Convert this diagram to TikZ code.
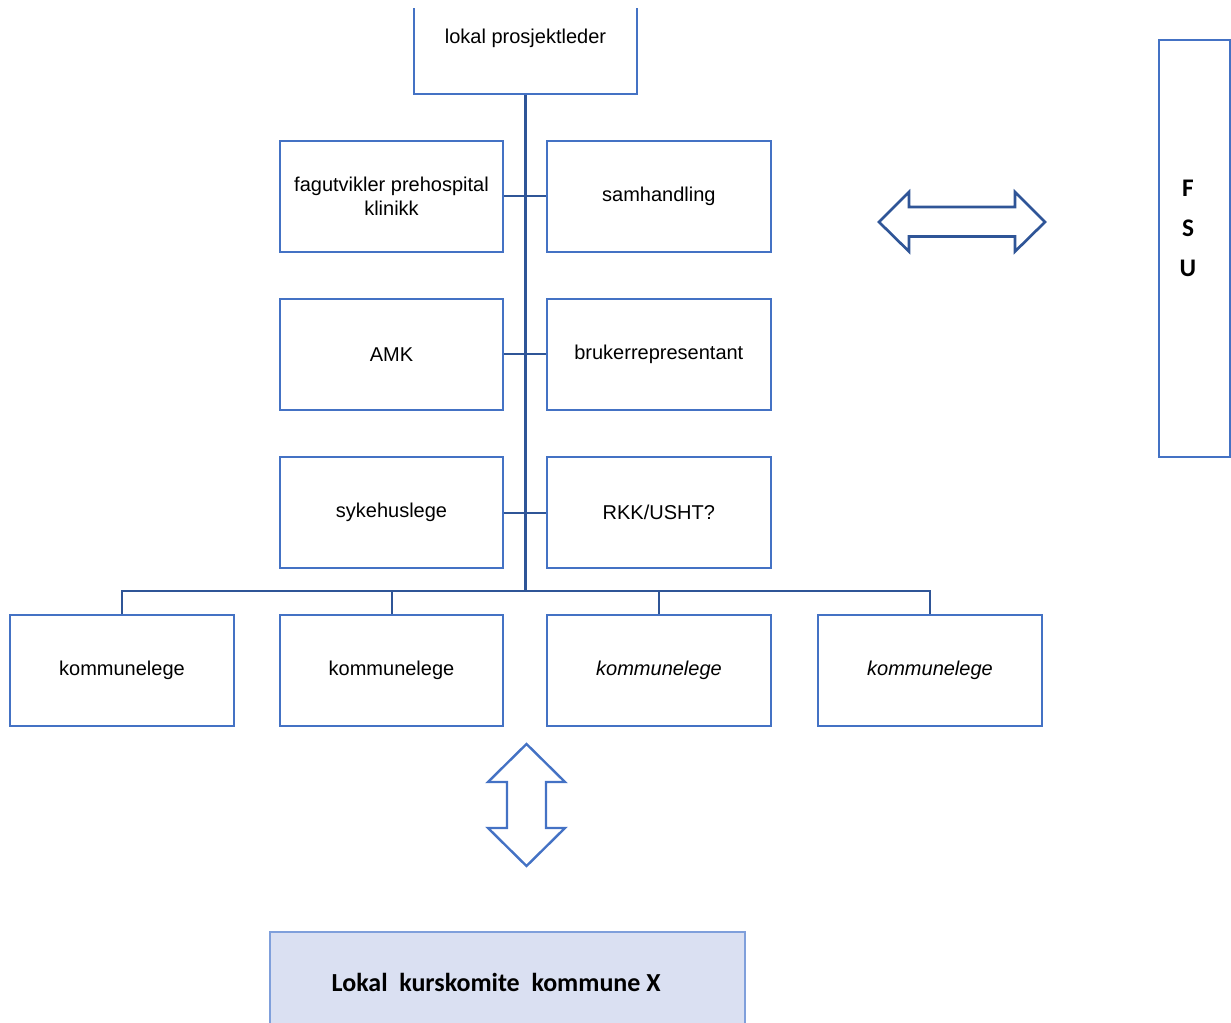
\documentclass[tikz,border=0pt]{standalone}
\usepackage{fontspec}
\setmainfont{Liberation Sans}
\newfontfamily\calibri{Carlito}
\usetikzlibrary{positioning}

\definecolor{boxblue}{RGB}{68,114,196}
\definecolor{lineblue}{RGB}{47,85,151}
\definecolor{komfill}{RGB}{218,224,242}
\definecolor{komline}{RGB}{127,159,219}

\tikzset{
  box/.style={draw=boxblue, line width=1.5pt, minimum width=167.5pt, minimum height=83.5pt,
    inner sep=0pt, align=center, font=\fontsize{15}{18}\selectfont},
  conn/.style={draw=lineblue, line width=1.5pt},
  trunk/.style={draw=lineblue, line width=2.4pt},
}

\begin{document}
\begin{tikzpicture}[x=0.75pt, y=-0.75pt]
    \useasboundingbox (0,0) rectangle (1231,1023);
    \clip (0,9) rectangle (1231,1023);

    % leder
    \node[box] at (525.5,38.5)(lead){lokal prosjektleder};

    % gruppe
    \node[box] at (391.5,196.5)(fag){fagutvikler prehospital\\klinikk};
    \node[box, right=31.5pt of fag](samh){samhandling};
    \node[box] at (391.5,354.5)(amk){AMK};
    \node[box, right=31.5pt of amk](bruker){brukerrepresentant};
    \node[box] at (391.5,512.5)(syk){sykehuslege};
    \node[box, right=31.5pt of syk](rkk){RKK/USHT?};

    % kommuner
    \node[box] at (122,670.5)(k1){kommunelege};
    \node[box] at (391.5,670.5)(k2){kommunelege};
    \node[box] at (659,670.5)(k3){\itshape kommunelege};
    \node[box] at (930,670.5)(k4){\itshape kommunelege};
    \coordinate (bus) at (525.5,591);

    \node[box, minimum width=53.25pt, minimum height=312.75pt] at (1194.5,248.5)(fsu){};
    \node[font=\calibri\bfseries\fontsize{19}{30}\selectfont, align=center] at (1188,228)(fsutext){F\\S\\U};

    \node[box, draw=komline, fill=komfill, line width=1pt, minimum width=356.25pt, minimum height=75pt,
      font=\calibri\bfseries\fontsize{19.5}{22}\selectfont] at (507.5,982)(komite){Lokal\hspace{0.45em}kurskomite\hspace{0.45em}kommune X\hspace{17pt}};

    \path[trunk] (lead.south) -- (bus);
    \path[conn]
        (fag.east) -- (samh.west)
        (amk.east) -- (bruker.west)
        (syk.east) -- (rkk.west)
        (k1.north) |- (bus) -| (k4.north)
        (k2.north) -- (k2.north |- bus)
        (k3.north) -- (k3.north |- bus)
        ;

    % piler
    \draw[lineblue, line width=2pt] (879,222) -- (909,192) -- (909,207) -- (1015,207) -- (1015,192)
        -- (1045,222) -- (1015,251.5) -- (1015,236.5) -- (909,236.5) -- (909,251.5) -- cycle;
    \draw[boxblue, line width=1.8pt] (526.5,744) -- (565,782) -- (546,782) -- (546,828) -- (565,828)
        -- (526.5,866) -- (488,828) -- (507,828) -- (507,782) -- (488,782) -- cycle;
\end{tikzpicture}
\end{document}
